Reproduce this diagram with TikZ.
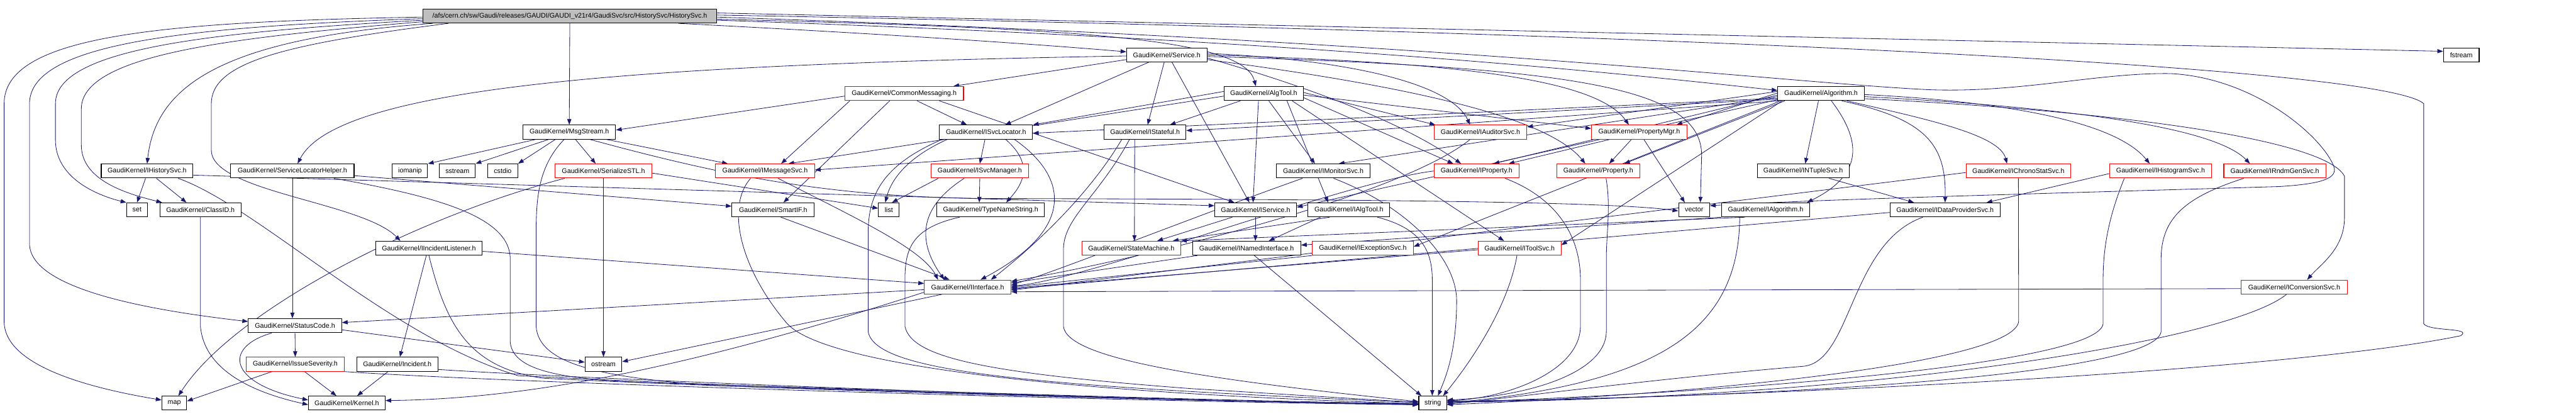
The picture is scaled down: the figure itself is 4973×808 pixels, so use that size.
\documentclass[tikz,border=0pt]{standalone}
\usepackage{fontspec}
\setmainfont{Liberation Sans}
\usetikzlibrary{arrows.meta}
\definecolor{edgec}{RGB}{25,25,112}
\definecolor{rootfill}{RGB}{191,191,191}
\pgfdeclarelayer{edgelayer}
\pgfsetlayers{edgelayer,main}
\begin{document}
\begin{tikzpicture}[x=1pt,y=-1pt,
  box/.style={draw=black,line width=1.3pt,fill=white,minimum height=27pt,inner xsep=0pt,inner ysep=0pt,font=\fontsize{13}{15}\selectfont},
  rbox/.style={box,draw=red},
  edge/.style={draw=edgec,line width=1pt,-{Triangle[length=11pt,width=8pt]}}]
\useasboundingbox (0,0) rectangle (4973,808);
% ---------- nodes ----------
\node[box,fill=rootfill,minimum width=568pt] (root) at (1100,31) {/afs/cern.ch/sw/Gaudi/releases/GAUDI/GAUDI\_v21r4/GaudiSvc/src/HistorySvc/HistorySvc.h};
\node[box,minimum width=155pt] (service) at (2252.5,106) {GaudiKernel/Service.h};
\node[box,minimum width=69pt] (fstream) at (4751.5,106) {fstream};
\node[rbox,minimum width=229pt] (commsg) at (1745.5,180.5) {GaudiKernel/CommonMessaging.h};
\node[box,minimum width=153pt] (algtool) at (2439.5,180.5) {GaudiKernel/AlgTool.h};
\node[box,minimum width=167pt] (algorithm) at (3515.5,180.5) {GaudiKernel/Algorithm.h};
\node[box,minimum width=179pt] (msgstream) at (1099,255) {GaudiKernel/MsgStream.h};
\node[box,minimum width=180pt] (isvcloc) at (1903.5,255) {GaudiKernel/ISvcLocator.h};
\node[box,minimum width=158pt] (istateful) at (2210.5,255) {GaudiKernel/IStateful.h};
\node[rbox,minimum width=179pt] (iauditor) at (2858,255) {GaudiKernel/IAuditorSvc.h};
\node[rbox,minimum width=184pt] (propmgr) at (3164.5,255) {GaudiKernel/PropertyMgr.h};
\node[box,minimum width=177pt] (ihistsvc) at (284,330) {GaudiKernel/IHistorySvc.h};
\node[box,minimum width=238pt] (slhelper) at (564.5,330) {GaudiKernel/ServiceLocatorHelper.h};
\node[box,minimum width=68pt] (iomanip) at (791.5,330) {iomanip};
\node[box,minimum width=69pt] (sstream) at (883,330) {sstream};
\node[box,minimum width=58pt] (cstdio) at (970.5,330) {cstdio};
\node[rbox,minimum width=186pt] (serial) at (1165,330) {GaudiKernel/SerializeSTL.h};
\node[rbox,minimum width=191pt] (imsgsvc) at (1477,330) {GaudiKernel/IMessageSvc.h};
\node[rbox,minimum width=188pt] (isvcmgr) at (1891.5,330) {GaudiKernel/ISvcManager.h};
\node[box,minimum width=180pt] (imonitor) at (2554.5,330) {GaudiKernel/IMonitorSvc.h};
\node[rbox,minimum width=164pt] (iproperty) at (2850.5,330) {GaudiKernel/IProperty.h};
\node[rbox,minimum width=160pt] (property) at (3085.5,330) {GaudiKernel/Property.h};
\node[box,minimum width=177pt] (intuple) at (3481,330) {GaudiKernel/INTupleSvc.h};
\node[rbox,minimum width=202pt] (ichrono) at (3896.5,330) {GaudiKernel/IChronoStatSvc.h};
\node[rbox,minimum width=197pt] (ihistogram) at (4171,330) {GaudiKernel/IHistogramSvc.h};
\node[rbox,minimum width=197pt] (irndm) at (4391.5,330) {GaudiKernel/IRndmGenSvc.h};
\node[box,minimum width=40pt] (set) at (264.5,405) {set};
\node[box,minimum width=157pt] (classid) at (387,405) {GaudiKernel/ClassID.h};
\node[box,minimum width=159pt] (smartif) at (1492.5,405) {GaudiKernel/SmartIF.h};
\node[box,minimum width=40pt] (list) at (1716,405) {list};
\node[box,minimum width=208pt] (typename) at (1912.5,405) {GaudiKernel/TypeNameString.h};
\node[box,minimum width=158pt] (iservice) at (2424,405) {GaudiKernel/IService.h};
\node[box,minimum width=158pt] (ialgtool) at (2604,405) {GaudiKernel/IAlgTool.h};
\node[box,minimum width=60pt] (vector) at (3270.5,405) {vector};
\node[box,minimum width=170pt] (ialgorithm) at (3408.5,405) {GaudiKernel/IAlgorithm.h};
\node[box,minimum width=212pt] (idataprov) at (3755,405) {GaudiKernel/IDataProviderSvc.h};
\node[box,minimum width=206pt] (iincident) at (828,479) {GaudiKernel/IIncidentListener.h};
\node[rbox,minimum width=191pt] (statemachine) at (2184,479) {GaudiKernel/StateMachine.h};
\node[box,minimum width=209pt] (inamed) at (2406.5,479) {GaudiKernel/INamedInterface.h};
\node[rbox,minimum width=195pt] (iexception) at (2631,479) {GaudiKernel/IExceptionSvc.h};
\node[rbox,minimum width=160pt] (itoolsvc) at (2933.5,479) {GaudiKernel/IToolSvc.h};
\node[rbox,minimum width=167pt] (iinterface) at (1868,554) {GaudiKernel/IInterface.h};
\node[rbox,minimum width=205pt] (iconversion) at (4429,554) {GaudiKernel/IConversionSvc.h};
\node[box,minimum width=180pt] (statuscode) at (569.5,628.5) {GaudiKernel/StatusCode.h};
\node[rbox,minimum width=189pt] (issue) at (570,703) {GaudiKernel/IssueSeverity.h};
\node[box,minimum width=157pt] (incident) at (767,703) {GaudiKernel/Incident.h};
\node[box,minimum width=71pt] (ostream) at (1165,703) {ostream};
\node[box,minimum width=48pt] (map) at (336.5,778) {map};
\node[box,minimum width=148pt] (kernel) at (669.5,778) {GaudiKernel/Kernel.h};
\node[box,minimum width=54pt] (string) at (2766,778) {string};
% ---------- edges ----------
\begin{pgfonlayer}{edgelayer}
% root
\draw[edge] ([yshift=-2pt]root.west) .. controls (300,42) and (8,70) .. (8,200) -- (8,620) .. controls (8,700) and (150,745) .. ([yshift=6pt]map.west);
\draw[edge] ([yshift=-5pt]root.west) .. controls (350,52) and (57,85) .. (57,200) -- (57,470) .. controls (57,560) and (300,600) .. ([yshift=8pt]statuscode.west);
\draw[edge] ([yshift=-8pt]root.west) .. controls (400,62) and (107,95) .. (107,200) -- (107,270) .. controls (107,340) and (180,375) .. (set.north west);
\draw[edge] ([yshift=-11pt]root.west) .. controls (450,72) and (157,105) .. (157,210) -- (157,280) .. controls (157,350) and (250,375) .. ([xshift=5pt]classid.north west);
\draw[edge] ([xshift=20pt]root.south west) .. controls (420,75) and (300,170) .. (ihistsvc.north);
\draw[edge] ([xshift=50pt]root.south west) .. controls (550,85) and (408,120) .. (408,200) -- (408,290) .. controls (408,370) and (700,390) .. ([xshift=-55pt]iincident.north);
\draw[edge] (root.south) -- (msgstream.north);
\draw[edge] ([xshift=210pt]root.south) .. controls (1700,65) and (2000,85) .. ([yshift=6pt]service.west);
\draw[edge] ([yshift=-6pt]root.east) .. controls (2100,55) and (2400,75) .. ([xshift=-15pt]algtool.north);
\draw[edge] ([yshift=6pt]root.east) -- ([yshift=7pt]fstream.west);
\draw[edge] ([yshift=2pt]root.east) .. controls (3300,65) and (4600,130) .. (4679,200) -- (4679,625) .. controls (4690,640) and (4775,632) .. (4750,648) .. controls (4400,720) and (3300,770) .. ([yshift=4pt]string.east);
\draw[edge] ([yshift=-2pt]root.east) .. controls (2800,80) and (3450,160) .. (3722,173) .. controls (3900,180) and (4050,140) .. (4190,142) .. controls (4350,150) and (4480,260) .. (4505,320) .. controls (4515,345) and (4480,355) .. (4400,360) .. controls (4000,372) and (3500,385) .. ([yshift=8pt]vector.east);
\draw[edge] ([yshift=-8pt]root.east) .. controls (2600,80) and (3200,150) .. ([yshift=6pt]algorithm.west);
% Service.h
\draw[edge] ([yshift=-2pt]service.west) .. controls (1200,125) and (650,170) .. ([xshift=10pt]slhelper.north);
\draw[edge] ([yshift=-9pt]service.west) -- ([xshift=95pt]commsg.north);
\draw[edge] ([xshift=-35pt]service.south) -- ([xshift=37pt]isvcloc.north);
\draw[edge] ([xshift=-5pt]service.south) -- ([xshift=5pt]istateful.north);
\draw[edge] ([xshift=10pt]service.south) -- ([xshift=-12pt]iservice.north);
\draw[edge] ([yshift=3pt]service.east) .. controls (2600,115) and (2800,160) .. ([xshift=-20pt]iauditor.north);
\draw[edge] (service.east) .. controls (2800,120) and (3080,150) .. ([xshift=-20pt]propmgr.north);
\draw[edge] ([yshift=-3pt]service.east) .. controls (3050,130) and (3285,170) .. (3285,300) -- ([xshift=12pt]vector.north);
\draw[edge] ([yshift=-6pt]service.east) .. controls (2500,160) and (2700,230) .. ([xshift=-30pt]iproperty.north);
\draw[edge] ([yshift=-9pt]service.east) .. controls (2750,170) and (2990,230) .. ([xshift=-25pt]property.north);
% CommonMessaging.h
\draw[edge] ([yshift=-5pt]commsg.west) -- ([yshift=4pt]msgstream.east);
\draw[edge] ([xshift=-105pt]commsg.south) -- ([xshift=31pt]imsgsvc.north);
\draw[edge] ([xshift=-28pt]commsg.south) -- ([xshift=20pt]smartif.north);
\draw[edge] ([xshift=25pt]commsg.south) -- ([xshift=-37pt]isvcloc.north);
\draw[edge] ([xshift=68pt]commsg.south) -- ([xshift=-41pt]iservice.north);
% AlgTool.h
\draw[edge] ([yshift=4pt]algtool.west) -- (isvcloc.north east);
\draw[edge] ([xshift=-45pt]algtool.south) -- ([xshift=48pt]istateful.north);
\draw[edge] ([yshift=2pt]algtool.east) -- ([xshift=3pt]iauditor.north west);
\draw[edge] ([yshift=-3pt]algtool.east) -- ([yshift=7pt]propmgr.west);
\draw[edge] ([yshift=-8pt]algtool.east) -- ([xshift=-45pt]iproperty.north);
\draw[edge] ([xshift=10pt]algtool.south) -- ([xshift=-16pt]imonitor.north);
\draw[edge] ([xshift=45pt]algtool.south) -- ([xshift=-40pt]ialgtool.north);
\draw[edge] ([xshift=-10pt]algtool.south) -- ([xshift=-5pt]iservice.north);
\draw[edge] ([xshift=55pt]algtool.south) -- ([xshift=-30pt]itoolsvc.north);
\draw[edge] ([yshift=-5pt]algtool.west) -- ([xshift=45pt]imsgsvc.north);
% Algorithm.h
\draw[edge] ([yshift=4pt]algorithm.west) -- ([yshift=10pt]iauditor.east);
\draw[edge] ([yshift=1pt]algorithm.west) -- ([xshift=72pt]propmgr.north);
\draw[edge] ([yshift=-3pt]algorithm.west) -- ([xshift=33pt]iproperty.north);
\draw[edge] ([xshift=-70pt]algorithm.south) -- ([xshift=50pt]property.north);
\draw[edge] ([yshift=-6pt]algorithm.west) -- ([xshift=30pt]imonitor.north);
\draw[edge] ([yshift=-9pt]algorithm.west) -- ([yshift=-2pt]isvcloc.east);
\draw[edge] ([yshift=-11pt]algorithm.west) -- ([yshift=3pt]istateful.east);
\draw[edge] ([xshift=-5pt]algorithm.south) -- ([xshift=4pt]intuple.north);
\draw[edge] ([xshift=50pt]algorithm.south) .. controls (3720,230) and (3860,260) .. ([xshift=-22pt]ichrono.north);
\draw[edge] ([yshift=-2pt]algorithm.east) .. controls (3850,195) and (4080,230) .. ([xshift=-21pt]ihistogram.north);
\draw[edge] ([yshift=-6pt]algorithm.east) .. controls (3950,205) and (4270,240) .. ([xshift=-48pt]irndm.north);
\draw[edge] ([yshift=-10pt]algorithm.east) .. controls (4100,215) and (4490,270) .. (4526,340) -- (4526,420) .. controls (4526,480) and (4480,510) .. ([xshift=25pt]iconversion.north);
\draw[edge] ([xshift=20pt]algorithm.south) .. controls (3600,280) and (3590,340) .. ([xshift=80pt]ialgorithm.north);
\draw[edge] ([xshift=40pt]algorithm.south) .. controls (3720,230) and (3757,280) .. (idataprov.north);
\draw[edge] ([yshift=-12pt]algorithm.west) -- ([yshift=5pt]iservice.east);
\draw[edge] ([xshift=-75pt]algorithm.south) -- ([yshift=6pt]itoolsvc.east);
\draw[edge] ([xshift=-78pt]algorithm.south) -- ([yshift=3pt]iexception.east);
\draw[edge] ([xshift=-82pt]algorithm.south) -- ([yshift=2pt]imsgsvc.east);
% MsgStream.h
\draw[edge] ([xshift=-65pt]msgstream.south) -- (iomanip.north east);
\draw[edge] ([xshift=-40pt]msgstream.south) -- (sstream.north east);
\draw[edge] ([xshift=-27pt]msgstream.south) -- (cstdio.north east);
\draw[edge] ([xshift=12pt]msgstream.south) -- ([xshift=-15pt]serial.north);
\draw[edge] ([xshift=72pt]msgstream.south) -- ([xshift=-72pt]imsgsvc.north);
\draw[edge] ([xshift=40pt]msgstream.south) .. controls (1400,340) and (1600,380) .. (1900,383) .. controls (2600,385) and (3100,388) .. ([yshift=-2pt]vector.west);
\draw[edge] ([xshift=-10pt]msgstream.south) .. controls (1040,320) and (1035,380) .. (1035,450) -- (1035,630) .. controls (1040,700) and (1150,730) .. (1400,745) .. controls (1900,760) and (2400,775) .. ([yshift=-3pt]string.west);
% SerializeSTL.h
\draw[edge] (serial.south) -- (ostream.north);
\draw[edge] ([xshift=-75pt]serial.south) .. controls (800,420) and (450,600) .. ([xshift=8pt]map.north);
\draw[edge] ([yshift=-4pt]serial.east) -- ([yshift=3pt]list.west);
% IMessageSvc.h
\draw[edge] ([xshift=25pt]imsgsvc.south) .. controls (1650,420) and (1780,480) .. ([xshift=-57pt]iinterface.north);
\draw[edge] ([xshift=-28pt]imsgsvc.south) .. controls (1400,400) and (1430,520) .. (1520,625) .. controls (1600,710) and (2100,760) .. ([yshift=-1pt]string.west);
% SmartIF.h
\draw[edge] ([xshift=15pt]smartif.south) -- ([xshift=-35pt]iinterface.north);
% ISvcLocator.h
\draw[edge] ([xshift=-2pt]isvcloc.south) -- (isvcmgr.north);
\draw[edge] ([xshift=-75pt]isvcloc.south) .. controls (1760,300) and (1722,340) .. ([xshift=-7pt]list.north);
\draw[edge] ([xshift=38pt]isvcloc.south) .. controls (2000,320) and (1970,360) .. ([xshift=30pt]typename.north);
\draw[edge] ([xshift=-85pt]isvcloc.south) .. controls (1700,320) and (1676,380) .. (1676,450) -- (1676,640) .. controls (1690,720) and (2000,745) .. ([yshift=1pt]string.west);
\draw[edge] ([xshift=55pt]isvcloc.south) .. controls (2060,340) and (2080,440) .. ([xshift=25pt]iinterface.north);
% ISvcManager.h
\draw[edge] (isvcmgr.south) -- ([xshift=-22pt]typename.north);
\draw[edge] ([xshift=-80pt]isvcmgr.south) -- ([xshift=6pt]list.north);
\draw[edge] ([xshift=-30pt]isvcmgr.south) .. controls (1790,390) and (1760,450) .. ([xshift=-45pt]iinterface.north);
% TypeNameString.h
\draw[edge] ([xshift=-60pt]typename.south) .. controls (1760,440) and (1747,480) .. (1747,540) -- (1747,630) .. controls (1760,690) and (1900,720) .. (2300,750) .. controls (2500,762) and (2650,772) .. ([yshift=2pt]string.west);
% IStateful.h
\draw[edge] ([xshift=-20pt]istateful.south) -- ([xshift=6pt]statemachine.north);
\draw[edge] ([xshift=-45pt]istateful.south) .. controls (2100,380) and (1990,480) .. ([xshift=45pt]iinterface.north);
\draw[edge] ([xshift=-30pt]istateful.south) .. controls (2120,380) and (2054,420) .. (2053,480) -- (2053,630) .. controls (2060,690) and (2300,730) .. ([yshift=3pt]string.west);
% IAuditorSvc.h
\draw[edge] ([xshift=-20pt]iauditor.south) .. controls (2700,380) and (2200,500) .. ([yshift=11pt]iinterface.east);
% PropertyMgr.h
\draw[edge] ([xshift=-57pt]propmgr.south) -- ([xshift=62pt]iproperty.north);
\draw[edge] ([xshift=-15pt]propmgr.south) -- ([xshift=21pt]property.north);
\draw[edge] ([xshift=9pt]propmgr.south) -- ([xshift=-18pt]vector.north);
% IHistorySvc.h
\draw[edge] ([xshift=-3pt]ihistsvc.south) -- (set.north);
\draw[edge] ([xshift=18pt]ihistsvc.south) -- ([xshift=-27pt]classid.north);
\draw[edge] ([yshift=-8pt]ihistsvc.east) -- ([yshift=8pt]iservice.west);
\draw[edge] ([xshift=60pt]ihistsvc.south) .. controls (500,400) and (750,650) .. (1000,725) .. controls (1500,750) and (2300,775) .. ([yshift=-2pt]string.west);
% ServiceLocatorHelper.h
\draw[edge] (slhelper.south) -- ([xshift=-5pt]statuscode.north);
\draw[edge] ([yshift=-9pt]slhelper.east) -- ([yshift=7pt]smartif.west);
\draw[edge] ([xshift=80pt]slhelper.south) .. controls (850,380) and (985,420) .. (985,500) -- (985,660) .. controls (990,720) and (1100,735) .. (1300,740) .. controls (1800,755) and (2400,775) .. ([yshift=-1pt]string.west);
% IIncidentListener.h
\draw[edge] ([xshift=-5pt]iincident.south) -- ([xshift=5pt]incident.north);
\draw[edge] ([yshift=-6pt]iincident.east) -- ([yshift=7pt]iinterface.west);
\draw[edge] (iincident.south) .. controls (860,620) and (900,710) .. (1050,730) .. controls (1500,752) and (2300,775) .. ([yshift=-2pt]string.west);
% StatusCode.h
\draw[edge] (statuscode.south) -- (issue.north);
\draw[edge] ([xshift=-45pt]statuscode.south) .. controls (430,670) and (440,740) .. ([yshift=6pt]kernel.west);
\draw[edge] ([yshift=-8pt]statuscode.east) -- ([yshift=4pt]ostream.west);
% IssueSeverity.h
\draw[edge] ([xshift=-45pt]issue.south) -- ([yshift=4pt]map.east);
\draw[edge] ([xshift=18pt]issue.south) -- ([xshift=-20pt]kernel.north);
\draw[edge] (issue.south east) .. controls (1000,740) and (2200,776) .. ([yshift=-3pt]string.west);
% Incident.h
\draw[edge] ([xshift=-18pt]incident.south) -- ([xshift=20pt]kernel.north);
\draw[edge] ([yshift=-10pt]incident.east) .. controls (1100,730) and (2200,775) .. ([yshift=-2pt]string.west);
% ClassID.h
\draw[edge] (classid.south) -- (387,630) .. controls (395,720) and (500,760) .. ([yshift=-3pt]kernel.west);
% IInterface.h
\draw[edge] ([yshift=-5pt]iinterface.west) -- ([yshift=6pt]statuscode.east);
\draw[edge] ([yshift=-10pt]iinterface.west) .. controls (1300,720) and (1000,770) .. ([yshift=5pt]kernel.east);
\draw[edge] ([xshift=-50pt]iinterface.south) -- ([yshift=5pt]ostream.east);
% IConversionSvc.h
\draw[edge] ([xshift=-15pt]iconversion.south) .. controls (4300,660) and (3600,770) .. ([yshift=2pt]string.east);
\draw[edge] ([yshift=-3pt]iconversion.west) -- ([yshift=-9pt]iinterface.east);
% right-hand services
\draw[edge] ([yshift=-3pt]ichrono.west) -- ([yshift=-6pt]iinterface.east);
\draw[edge] ([yshift=-5pt]idataprov.west) -- ([yshift=-4pt]iinterface.east);
\draw[edge] ([xshift=50pt]intuple.south) -- ([xshift=-60pt]idataprov.north);
\draw[edge] ([yshift=-5pt]ihistogram.west) -- ([xshift=80pt]idataprov.north);
\draw[edge] ([xshift=-43pt]idataprov.south) .. controls (3570,470) and (3575,700) .. (3480,707) .. controls (3200,730) and (2900,770) .. ([yshift=-2pt]string.east);
\draw[edge] (ichrono.south) -- (3897,620) .. controls (3890,700) and (3300,760) .. ([yshift=-3pt]string.east);
\draw[edge] ([xshift=-70pt]ihistogram.south) .. controls (4070,420) and (4060,480) .. (4060,540) -- (4060,625) .. controls (4050,700) and (3400,755) .. ([yshift=1pt]string.east);
\draw[edge] ([xshift=-60pt]irndm.south) .. controls (4220,380) and (4172,420) .. (4172,500) -- (4172,640) .. controls (4160,720) and (3500,765) .. ([yshift=3pt]string.east);
% IAlgorithm.h
\draw[edge] ([xshift=-50pt]ialgorithm.south) .. controls (3357,640) and (3200,740) .. (string.east);
\draw[edge] (ialgorithm.south west) -- ([yshift=6pt]inamed.east);
\draw[edge] ([xshift=-40pt]ialgorithm.south) -- (statemachine.north east);
% IProperty.h / Property.h
\draw[edge] (iproperty.west) .. controls (2600,350) and (2100,540) .. ([yshift=2pt]iinterface.east);
\draw[edge] ([xshift=55pt]iproperty.south) .. controls (3000,380) and (3051,450) .. (3051,540) -- (3051,630) .. controls (3050,720) and (2900,770) .. ([yshift=5pt]string.east);
\draw[edge] ([xshift=15pt]property.south) .. controls (3110,400) and (3101,450) .. (3101,500) -- (3101,640) .. controls (3100,720) and (2950,765) .. ([yshift=6pt]string.east);
% IMonitorSvc.h
\draw[edge] ([xshift=-40pt]imonitor.south) .. controls (2300,420) and (2050,520) .. ([yshift=4pt]iinterface.east);
\draw[edge] ([xshift=20pt]imonitor.south) .. controls (2720,400) and (2812,500) .. (2812,580) .. controls (2812,680) and (2790,730) .. ([xshift=10pt]string.north);
% IToolSvc.h / IExceptionSvc.h
\draw[edge] ([xshift=-5pt]itoolsvc.south) .. controls (2910,600) and (2830,710) .. ([xshift=20pt]string.north);
\draw[edge] ([yshift=-3pt]itoolsvc.west) -- ([yshift=-2pt]iinterface.east);
\draw[edge] (iexception.south west) -- (iinterface.east);
% INamedInterface.h
\draw[edge] ([xshift=-95pt]inamed.south) -- ([yshift=8pt]iinterface.east);
\draw[edge] ([xshift=15pt]inamed.south) -- ([xshift=-22pt]string.north);
% IService.h / IAlgTool.h
\draw[edge] (iservice.south) -- ([xshift=17pt]inamed.north);
\draw[edge] ([xshift=-45pt]iservice.south) -- ([xshift=50pt]statemachine.north);
\draw[edge] ([xshift=-37pt]ialgtool.south) -- ([xshift=80pt]statemachine.north);
\draw[edge] ([xshift=-55pt]ialgtool.south) -- ([xshift=43pt]inamed.north);
\draw[edge] ([xshift=55pt]ialgtool.south) .. controls (2740,440) and (2765,480) .. (2765,540) -- ([xshift=-1pt]string.north);
\end{pgfonlayer}
\end{tikzpicture}
\end{document}
